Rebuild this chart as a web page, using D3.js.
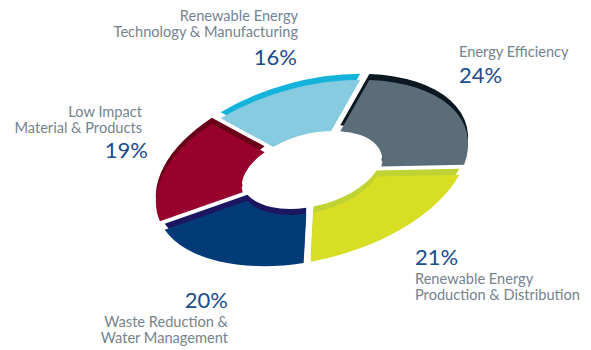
<!DOCTYPE html>
<html>
<head>
<meta charset="utf-8">
<script src="https://cdn.jsdelivr.net/npm/d3@7"></script>
<style>
  html, body { margin: 0; padding: 0; background: #ffffff; }
  svg { display: block; }
  .cat { font-family: Lato, "Open Sans", sans-serif; font-size: 14.6px; fill: #74838e; }
  .pct { font-family: Lato, "Open Sans", sans-serif; font-size: 22px; font-weight: 400; fill: #1b4b8b; }
</style>
</head>
<body>
<script>
// Investment mix by theme (share of total, %), clockwise from the top
const categories = [
  "Energy Efficiency",
  "Renewable Energy Production & Distribution",
  "Waste Reduction & Water Management",
  "Low Impact Material & Products",
  "Renewable Energy Technology & Manufacturing"
];
const shares = [24, 21, 20, 19, 16];
const labelLines = [
  ["Energy Efficiency"],
  ["Renewable Energy", "Production & Distribution"],
  ["Waste Reduction &", "Water Management"],
  ["Low Impact", "Material & Products"],
  ["Renewable Energy", "Technology & Manufacturing"]
];

// Palette: top face and extruded side of each slice
const faceColors = ["#5b6d79", "#d7de24", "#033b79", "#98002e", "#86cbe0"];
const sideColors = ["#0b1821", "#bfd432", "#1c1660", "#680017", "#13b3dc"];

const W = 591, H = 350;
const cx = 312, cy = 173;
const tilt = -15;          // rotation of the tilted ring, degrees
const k = 0.54;            // vertical foreshortening
const Ro = 160, Ri = 72;   // radii before foreshortening
const depth = 6;           // visible thickness of the ring, px
// white gap on screen at the start edge of each slice, px
const startGaps = [8, 10, 7, 9.5, 9];

// Label placement: anchor, x, baselines of the text lines, percent position
const labelLayout = [
  { anchor: "start", x: 459, lines: [57], px: 459, py: 83 },
  { anchor: "start", x: 415, lines: [284, 300], px: 415, py: 265 },
  { anchor: "end", x: 228, lines: [327, 343], px: 228, py: 308 },
  { anchor: "end", x: 142, lines: [117, 133], px: 148, py: 158 },
  { anchor: "end", x: 298, lines: [21, 37], px: 297, py: 65 }
];

const svg = d3.select("body").append("svg")
  .attr("width", W).attr("height", H);

const start = 28 * Math.PI / 180;
const pie = d3.pie().sort(null).value(d => d)
  .startAngle(start).endAngle(start + 2 * Math.PI);
const arcs = pie(shares);

// offset (in unfore-shortened units) that yields a given half gap on screen
function edgeOffset(a, halfGap) {
  const len = Math.sqrt(Math.sin(a) ** 2 + (k * Math.cos(a)) ** 2);
  return halfGap * len / k;
}

// annular sector whose straight edges are pulled inwards by t0 / t1
function slicePath(a0, a1, t0, t1) {
  const p = d3.path();
  const ao0 = a0 + Math.asin(t0 / Ro), ao1 = a1 - Math.asin(t1 / Ro);
  const ai0 = a0 + Math.asin(t0 / Ri), ai1 = a1 - Math.asin(t1 / Ri);
  const h = Math.PI / 2;
  p.moveTo(Ro * Math.cos(ao0 - h), Ro * Math.sin(ao0 - h));
  p.arc(0, 0, Ro, ao0 - h, ao1 - h);
  p.lineTo(Ri * Math.cos(ai1 - h), Ri * Math.sin(ai1 - h));
  p.arc(0, 0, Ri, ai1 - h, ai0 - h, true);
  p.closePath();
  return p.toString();
}

const sliceD = arcs.map((d, i) => {
  const g0 = startGaps[i] / 2;
  const g1 = startGaps[(i + 1) % shares.length] / 2;
  return slicePath(d.startAngle, d.endAngle,
    edgeOffset(d.startAngle, g0), edgeOffset(d.endAngle, g1));
});

// extruded sides first, then the faces on top
const sides = svg.append("g")
  .attr("transform", `translate(${cx},${cy - depth}) rotate(${tilt}) scale(1,${k})`);
sides.selectAll("path").data(arcs).join("path")
  .attr("d", (d, i) => sliceD[i])
  .attr("fill", (d, i) => sideColors[i]);

const faces = svg.append("g")
  .attr("transform", `translate(${cx},${cy}) rotate(${tilt}) scale(1,${k})`);
faces.selectAll("path").data(arcs).join("path")
  .attr("d", (d, i) => sliceD[i])
  .attr("fill", (d, i) => faceColors[i]);

// labels
const labels = svg.append("g");
labelLayout.forEach((L, i) => {
  labelLines[i].forEach((line, j) => {
    labels.append("text").attr("class", "cat")
      .attr("text-anchor", L.anchor)
      .attr("x", L.x).attr("y", L.lines[j])
      .text(line);
  });
  labels.append("text").attr("class", "pct")
    .attr("text-anchor", L.anchor)
    .attr("x", L.px).attr("y", L.py)
    .text(arcs[i].data + "%");
});
</script>
</body>
</html>
